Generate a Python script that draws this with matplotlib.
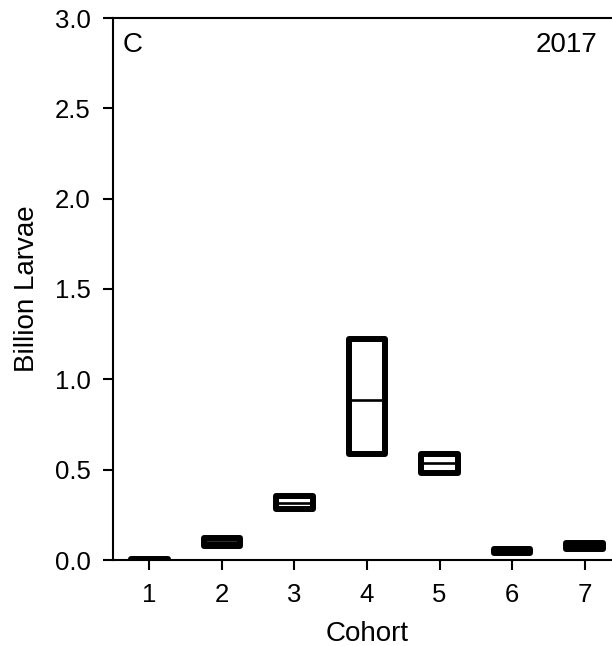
import matplotlib
matplotlib.use("Agg")
import matplotlib.pyplot as plt

cohorts = [1, 2, 3, 4, 5, 6, 7]
q_low = [0.0, 0.080, 0.281, 0.588, 0.481, 0.039, 0.059]
q_high = [0.004, 0.120, 0.353, 1.225, 0.588, 0.061, 0.094]
medians = [0.002, 0.100, 0.315, 0.884, 0.535, 0.050, 0.076]
yticks = [0.0, 0.5, 1.0, 1.5, 2.0, 2.5, 3.0]

plt.rcParams['font.family'] = ['Liberation Sans', 'DejaVu Sans']

fig = plt.figure(figsize=(6.12, 6.46), dpi=100)
ax = fig.add_axes([113/612, 86/646, 508/612, 542/646])

heights = [h - l for h, l in zip(q_high, q_low)]
bars = ax.bar(cohorts, heights, bottom=q_low, width=0.503, facecolor='white',
              edgecolor='black', linewidth=4.3, zorder=3)
for b in bars:
    b.set_joinstyle('round')
ax.hlines(medians, [c - 0.25 for c in cohorts], [c + 0.25 for c in cohorts],
          colors='black', linewidth=1.9, zorder=4)

ax.set_xlim(0.5, 7.5)
ax.set_ylim(0, 3.0)
ax.set_xticks(cohorts)
ax.set_yticks(yticks)
ax.set_yticklabels([f"{v:.1f}" for v in yticks])
ax.spines['right'].set_visible(False)
for s in ['left', 'bottom', 'top']:
    ax.spines[s].set_linewidth(1.5)
    ax.spines[s].set_zorder(5)
ax.tick_params(axis='both', direction='out', length=7.2, width=1.5, labelsize=18.5)
ax.tick_params(axis='y', pad=9)
ax.tick_params(axis='x', pad=9.5)
ax.set_xlabel('Cohort', fontsize=20, labelpad=10)
ax.set_ylabel('Billion Larvae', fontsize=20, labelpad=10.5)

ax.text(123/612, 1 - 45/646, 'C', transform=fig.transFigure, fontsize=20, ha='left', va='center')
fig.text(597/612, 1 - 45/646, '2017', fontsize=20, ha='right', va='center')

fig.savefig('out.png', dpi=100)
